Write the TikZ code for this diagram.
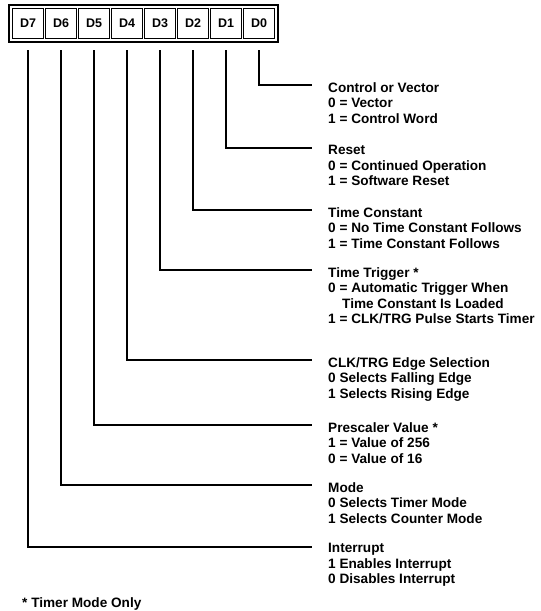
\documentclass[tikz,border=0pt]{standalone}
\usepackage{fontspec}
\setmainfont{Liberation Sans}
\tikzset{
  bit/.style={draw,line width=1.2pt,minimum width=31pt,minimum height=30pt,inner sep=0pt,font=\bfseries\fontsize{12.5}{14}\selectfont},
  desc/.style={anchor=north west,align=left,inner sep=0pt,font=\bfseries\fontsize{13.6}{15.6}\selectfont},
  lead/.style={line width=1.6pt}
}
\begin{document}
\begin{tikzpicture}[x=1pt,y=-1pt]
  \useasboundingbox (0,0) rectangle (541,611);
  % register
  \draw[line width=2pt] (9,5) rectangle (278,42);
  \node[bit] (D7) at (28,23.5) {D7};
  \node[bit] (D6) at (61,23.5) {D6};
  \node[bit] (D5) at (94,23.5) {D5};
  \node[bit] (D4) at (127,23.5) {D4};
  \node[bit] (D3) at (160,23.5) {D3};
  \node[bit] (D2) at (193,23.5) {D2};
  \node[bit] (D1) at (226,23.5) {D1};
  \node[bit] (D0) at (259,23.5) {D0};
  % descriptions
  \node[desc] (ctl) at (328,82) {Control or Vector\\0 = Vector\\1 = Control Word};
  \node[desc] (rst) at (328,145) {Reset\\0 = Continued Operation\\1 = Software Reset};
  \node[desc] (tc) at (328,207) {Time Constant\\0 = No Time Constant Follows\\1 = Time Constant Follows};
  \node[desc] (trg) at (328,267) {Time Trigger *\\0 = Automatic Trigger When\\\hspace*{14pt}Time Constant Is Loaded\\1 = CLK/TRG Pulse Starts Timer};
  \node[desc] (edge) at (328,357) {CLK/TRG Edge Selection\\0 Selects Falling Edge\\1 Selects Rising Edge};
  \node[desc] (pre) at (328,422) {Prescaler Value *\\1 = Value of 256\\0 = Value of 16};
  \node[desc] (mode) at (328,482) {Mode\\0 Selects Timer Mode\\1 Selects Counter Mode};
  \node[desc] (int) at (328,543) {Interrupt\\1 Enables Interrupt\\0 Disables Interrupt};
  \node[desc,anchor=base west] (note) at (22,607) {* Timer Mode Only};
  % leads
  \coordinate (e0) at (312,85);
  \coordinate (e1) at (312,148);
  \coordinate (e2) at (312,210);
  \coordinate (e3) at (312,270);
  \coordinate (e4) at (312,360);
  \coordinate (e5) at (312,425);
  \coordinate (e6) at (312,485);
  \coordinate (e7) at (312,547);
  \draw[lead] ([yshift=-11pt]D0.south) |- (e0);
  \draw[lead] ([yshift=-11pt]D1.south) |- (e1);
  \draw[lead] ([yshift=-11pt]D2.south) |- (e2);
  \draw[lead] ([yshift=-11pt]D3.south) |- (e3);
  \draw[lead] ([yshift=-11pt]D4.south) |- (e4);
  \draw[lead] ([yshift=-11pt]D5.south) |- (e5);
  \draw[lead] ([yshift=-11pt]D6.south) |- (e6);
  \draw[lead] ([yshift=-11pt]D7.south) |- (e7);
\end{tikzpicture}
\end{document}
